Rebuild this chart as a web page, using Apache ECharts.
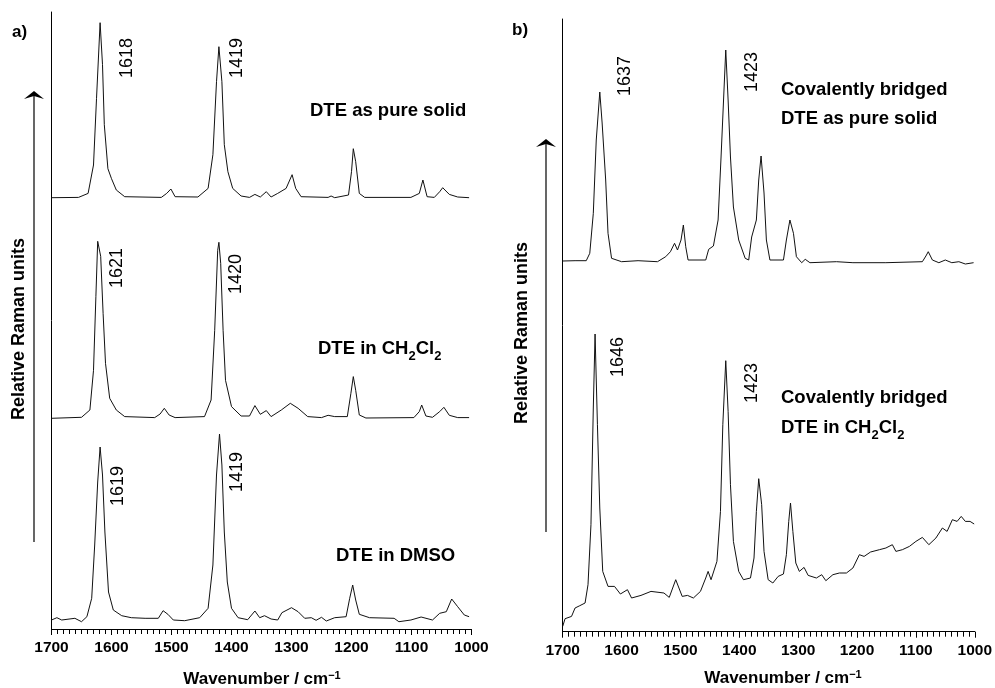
<!DOCTYPE html>
<html><head><meta charset="utf-8">
<script src="https://cdn.jsdelivr.net/npm/echarts@6/dist/echarts.min.js"></script>
<style>html,body{margin:0;padding:0;background:#fff}#c{width:995px;height:688px}</style>
</head><body><div id="c"></div>
<script>
// ---- data: [wavenumber (cm-1), relative Raman intensity] ----
const aSolid = [[1700,0],[1655,0.3],[1639,4.3],[1630,32.7],[1625,99],[1619,175],[1615,133],[1612,73],[1606,29],[1600,19],[1592,7.7],[1578,1],[1517,0.3],[1508,4.3],[1501,8.7],[1494,1],[1456,0.7],[1439,9.3],[1431,43],[1425,116],[1421,151],[1416,116],[1412,53],[1406,26],[1398,9.3],[1384,1.7],[1370,0.3],[1361,3.3],[1352,0.7],[1342,6],[1334,0.7],[1323,4.3],[1309,9.3],[1299,23],[1293,9.3],[1284,1],[1239,0.3],[1234,1.7],[1228,0],[1205,2.7],[1200,26],[1197,49],[1193,36],[1187,4.3],[1178,0.3],[1101,0.3],[1087,4.3],[1081,17.7],[1074,1],[1062,0.3],[1053,6],[1048,10],[1037,3.3],[1023,0.7],[1004,0]];
const aCH2Cl2 = [[1700,0],[1650,1],[1636,8.3],[1630,48],[1626,122],[1623,177],[1621,179],[1618,162],[1614,105],[1610,55],[1603,20],[1592,8.3],[1578,1.7],[1528,0.7],[1519,4.3],[1512,10],[1504,3.3],[1494,0.7],[1445,1.7],[1434,18.3],[1428,88],[1423,168],[1421,176],[1418,155],[1414,88],[1410,38],[1400,11.7],[1384,2.3],[1370,2.3],[1361,12.7],[1352,4],[1342,7.7],[1334,1.7],[1317,8.3],[1302,15],[1289,10],[1273,1.7],[1250,0.7],[1239,3],[1228,1.7],[1207,1.7],[1201,25],[1197,41.7],[1193,28],[1187,3.3],[1176,0.3],[1096,0.7],[1087,6.7],[1083,13.3],[1076,2.3],[1065,1],[1053,6.7],[1046,11],[1037,3],[1023,0.7],[1004,0.7]];
const aDMSO = [[1700,0],[1691,2.3],[1683,0],[1661,1.7],[1650,-1.7],[1641,3.3],[1633,21.7],[1628,75],[1623,138],[1619,173],[1615,145],[1611,88],[1605,28],[1597,10],[1583,4.3],[1567,2.3],[1544,1.7],[1522,1.7],[1514,9.3],[1506,5.7],[1497,0],[1478,-0.7],[1453,2.3],[1439,11.7],[1431,55],[1425,145],[1420,186],[1416,155],[1412,88],[1407,38],[1400,11.7],[1389,2.3],[1373,0.3],[1361,9],[1353,2.3],[1345,4.3],[1334,1],[1323,0],[1316,7.3],[1300,12.3],[1289,8.3],[1278,1.7],[1267,2.3],[1259,-0.3],[1250,2.7],[1242,-1],[1228,2.3],[1209,3.3],[1203,21.7],[1198,35],[1193,20],[1187,5.7],[1170,2.3],[1129,1.7],[1121,-1.7],[1101,0],[1084,3],[1065,0],[1053,6.7],[1042,8.3],[1033,21],[1023,13.3],[1012,5],[1004,3.3]];
const bSolid = [[1700,0],[1679,0.3],[1660,0.3],[1654,7.7],[1648,47.7],[1643,121],[1637,169],[1633,138],[1627,81],[1623,27.7],[1617,2.7],[1600,-0.7],[1572,0.3],[1539,-0.7],[1525,4.3],[1517,9.3],[1510,17.7],[1505,11],[1499,21],[1495,36],[1491,14.3],[1487,1],[1457,1],[1452,11.7],[1444,15],[1436,41],[1431,104],[1426,171],[1423,211],[1419,161],[1415,104],[1410,54],[1401,21],[1390,2.7],[1384,1],[1379,24],[1371,41],[1367,81],[1363,105],[1358,68],[1354,21],[1348,1],[1325,1],[1320,21],[1314,41],[1308,27.7],[1303,4.3],[1294,-1.7],[1288,1.7],[1280,-1.7],[1235,-0.7],[1207,-1.7],[1151,-1.7],[1089,-0.7],[1083,5],[1079,9.3],[1072,1],[1061,-1.7],[1050,1],[1039,-1.7],[1027,-0.7],[1016,-3],[1002,-1.7]];
const bCH2Cl2 = [[1700,5.3],[1696,13],[1685,15.3],[1679,23.7],[1671,26],[1662,28.7],[1657,47],[1652,107],[1648,223.7],[1645,297.7],[1641,207],[1637,123.7],[1632,60.3],[1623,45.3],[1612,45.3],[1602,37.7],[1590,42],[1583,33.7],[1567,36.3],[1550,40.3],[1528,38.7],[1519,34.3],[1508,52],[1497,35.3],[1488,36.3],[1478,33.7],[1466,40.3],[1457,53.7],[1453,60.3],[1448,52],[1438,70.3],[1432,120.3],[1428,207],[1423,271],[1419,220.3],[1415,147],[1410,90.3],[1401,60.3],[1393,52],[1381,53.7],[1375,73.7],[1371,120.3],[1367,153],[1362,127],[1358,80.3],[1351,52],[1343,48.7],[1334,55.3],[1325,57.7],[1320,77],[1316,110.3],[1313,128.7],[1309,100.3],[1304,68.7],[1298,60.3],[1290,64.3],[1283,56.3],[1269,53.7],[1260,57],[1253,51],[1241,57],[1230,58.7],[1218,58.7],[1207,63.7],[1196,77],[1188,75.3],[1177,79.7],[1162,82],[1151,83.7],[1140,87],[1134,80.3],[1123,82],[1111,85.3],[1100,90.3],[1089,94.3],[1078,87],[1066,93.7],[1055,103.7],[1047,100.3],[1038,112],[1030,110.3],[1023,115.3],[1016,110.3],[1008,110.3],[1001,107.7]];

const peakLabelsA = ['1618','1419','1621','1420','1619','1419'];
const peakLabelsB = ['1637','1423','1646','1423'];
const panelTitles = ['a)','b)'];
const axisTitle = 'Wavenumber / cm';
const yTitle = 'Relative Raman units';

// ---- layout (vertical stacking offsets) ----
const offsetsA = [431.3, 210.7, 9];
const offsetsB = [370.7, 0];

const FONT = '"Liberation Sans", Arial, Helvetica, sans-serif';
const INK = '#111';

function shift(arr, off){ return arr.map(p => [p[0], p[1] + off]); }

function xAxis(gi){
  return {
    type:'value', gridIndex:gi, min:1000, max:1700, interval:100, inverse:true,
    axisLine:{show:true, onZero:false, lineStyle:{color:'#000', width:1}},
    axisTick:{show:true, inside:false, length:6, lineStyle:{color:'#000', width:1}},
    minorTick:{show:true, splitNumber:10, length:5, lineStyle:{color:'#000', width:1}},
    splitLine:{show:false}, minorSplitLine:{show:false},
    axisLabel:{color:'#000', fontSize:15.5, fontWeight:'bold', fontFamily:FONT, margin:11,
      formatter:function(v){ return String(v); }}
  };
}
function yAxis(gi, max){
  return {
    type:'value', gridIndex:gi, min:0, max:max,
    axisLine:{show:true, onZero:false, lineStyle:{color:'#000', width:1}},
    axisTick:{show:false}, axisLabel:{show:false}, splitLine:{show:false}
  };
}
function line(data, xi){
  return {type:'line', xAxisIndex:xi, yAxisIndex:xi, data:data, showSymbol:false, symbol:'none',
    lineStyle:{color:INK, width:1}, silent:true, animation:false};
}

function txt(x, y, text, opts){
  opts = opts || {};
  return {type:'text', x:x, y:y, rotation:opts.rot || 0, silent:true,
    style:Object.assign({text:text, fill:'#000', fontSize:opts.size || 18, fontWeight:opts.weight || 'normal',
      fontFamily:FONT, align:opts.align || 'center', verticalAlign:'middle',
      textAlign:opts.align || 'center', textVerticalAlign:'middle'}, opts.extra || {})};
}
const subRich = {
  b:{fontSize:18.5, fontWeight:'bold', fontFamily:FONT, lineHeight:24, verticalAlign:'top', color:'#000'},
  s:{fontSize:13, fontWeight:'bold', fontFamily:FONT, lineHeight:13, verticalAlign:'bottom', color:'#000'}
};
function richName(x, y, text){
  return {type:'text', x:x, y:y, silent:true,
    style:{text:text, rich:subRich, fill:'#000', fontSize:18.5, fontWeight:'bold', fontFamily:FONT,
      align:'left', verticalAlign:'middle', textAlign:'left', textVerticalAlign:'middle'}};
}
const supRich = {
  b:{fontSize:17, fontWeight:'bold', fontFamily:FONT, lineHeight:18, verticalAlign:'bottom', color:'#000'},
  p:{fontSize:11, fontWeight:'bold', fontFamily:FONT, lineHeight:11, verticalAlign:'top', color:'#000'}
};
function axisName(x, y){
  return {type:'text', x:x, y:y, silent:true,
    style:{text:'{b|' + axisTitle + '}{p|\u22121}', rich:supRich, fill:'#000', fontFamily:FONT,
      align:'center', verticalAlign:'middle', textAlign:'center', textVerticalAlign:'middle'}};
}
function arrow(x, yBottom, yTip){
  return [
    {type:'line', silent:true, shape:{x1:x, y1:yBottom, x2:x, y2:yTip + 5}, style:{stroke:'#000', lineWidth:1.2}},
    {type:'polygon', silent:true, shape:{points:[[x, yTip],[x-10, yTip+8],[x, yTip+5],[x+10, yTip+8]]}, style:{fill:'#000'}}
  ];
}

const graphic = [].concat(
  [txt(12, 32, panelTitles[0], {size:17, weight:'bold', align:'left'}),
   txt(512, 30, panelTitles[1], {size:17, weight:'bold', align:'left'})],
  arrow(34, 542, 91), arrow(546, 532, 139),
  [txt(19, 329, yTitle, {size:18, weight:'bold', rot:Math.PI/2}),
   txt(522, 333, yTitle, {size:18, weight:'bold', rot:Math.PI/2})],
  [txt(127, 58, peakLabelsA[0], {rot:Math.PI/2}),
   txt(237, 58, peakLabelsA[1], {rot:Math.PI/2}),
   txt(117, 268, peakLabelsA[2], {rot:Math.PI/2}),
   txt(236, 274, peakLabelsA[3], {rot:Math.PI/2}),
   txt(118, 486, peakLabelsA[4], {rot:Math.PI/2}),
   txt(237, 472, peakLabelsA[5], {rot:Math.PI/2}),
   txt(625, 76, peakLabelsB[0], {rot:Math.PI/2}),
   txt(752, 72, peakLabelsB[1], {rot:Math.PI/2}),
   txt(618, 357, peakLabelsB[2], {rot:Math.PI/2}),
   txt(752, 383, peakLabelsB[3], {rot:Math.PI/2})],
  [richName(310, 113, '{b|DTE as pure solid}'),
   richName(318, 351, '{b|DTE in CH}{s|2}{b|Cl}{s|2}'),
   richName(336, 558, '{b|DTE in DMSO}'),
   richName(781, 92, '{b|Covalently bridged}'),
   richName(781, 121, '{b|DTE as pure solid}'),
   richName(781, 400, '{b|Covalently bridged}'),
   richName(781, 430, '{b|DTE in CH}{s|2}{b|Cl}{s|2}')],
  [axisName(262, 679), axisName(783, 678)]
);

const chart = echarts.init(document.getElementById('c'), null, {renderer:'canvas'});
chart.setOption({
  backgroundColor:'#fff',
  animation:false,
  grid:[
    {left:51.5, right:523.5, top:12, bottom:59},
    {left:562.7, right:16.7, top:19, bottom:56.3}
  ],
  xAxis:[xAxis(0), xAxis(1)],
  yAxis:[yAxis(0, 617), yAxis(1, 612.7)],
  series:[
    line(shift(aSolid, offsetsA[0]), 0),
    line(shift(aCH2Cl2, offsetsA[1]), 0),
    line(shift(aDMSO, offsetsA[2]), 0),
    line(shift(bSolid, offsetsB[0]), 1),
    line(shift(bCH2Cl2, offsetsB[1]), 1)
  ],
  graphic:graphic
});
</script>
</body></html>
